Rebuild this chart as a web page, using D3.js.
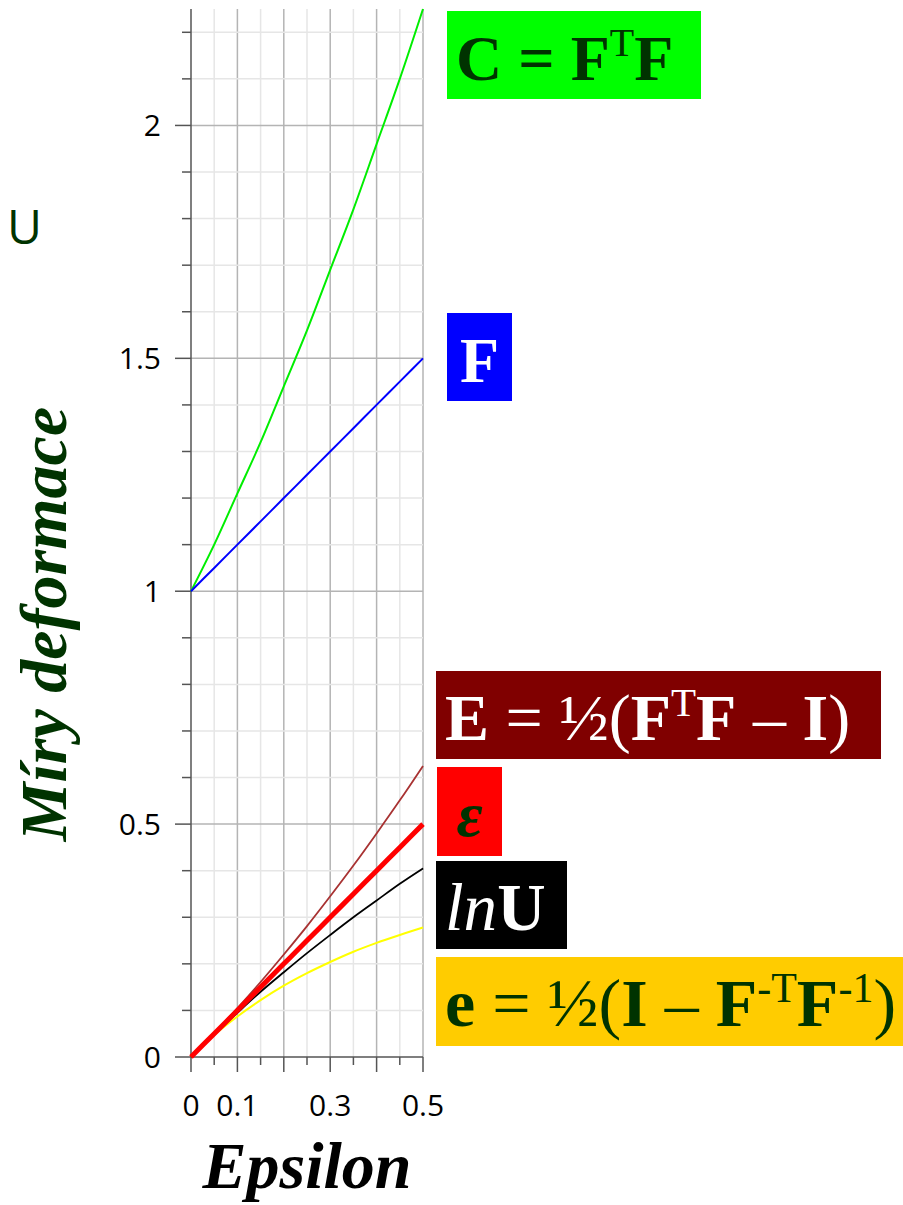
<!DOCTYPE html>
<html>
<head>
<meta charset="utf-8">
<script src="https://cdn.jsdelivr.net/npm/d3@7"></script>
<style>
  body { margin: 0; background: #fff; }
  svg { display: block; }
</style>
</head>
<body>
<script>
// values
var epsilon = [0, 0.05, 0.1, 0.15, 0.2, 0.25, 0.3, 0.35, 0.4, 0.45, 0.5];
var seriesC = [1, 1.10, 1.21, 1.32, 1.44, 1.56, 1.69, 1.82, 1.96, 2.10, 2.25];
var seriesF = [1, 1.05, 1.10, 1.15, 1.20, 1.25, 1.30, 1.35, 1.40, 1.45, 1.50];
var seriesE = [0, 0.051, 0.105, 0.161, 0.22, 0.281, 0.345, 0.411, 0.48, 0.551, 0.625];
var seriesEps = [0, 0.05, 0.1, 0.15, 0.2, 0.25, 0.3, 0.35, 0.4, 0.45, 0.5];
var seriesLnU = [0, 0.049, 0.095, 0.140, 0.182, 0.223, 0.262, 0.300, 0.336, 0.372, 0.405];
var seriesSmallE = [0, 0.047, 0.087, 0.122, 0.153, 0.18, 0.204, 0.226, 0.245, 0.262, 0.278];

var xTickLabels = [0, 0.1, 0.3, 0.5];
var yTickLabels = [0, 0.5, 1, 1.5, 2];

var width = 903, height = 1205;
var margin = {left: 191, right: 480, top: 9, bottom: 148};

var svg = d3.select('body').append('svg')
  .attr('width', width)
  .attr('height', height);

var x = d3.scaleLinear().domain([0, 0.5]).range([margin.left, width - margin.right]);
var y = d3.scaleLinear().domain([0, 2.25]).range([height - margin.bottom, margin.top]);

var x0 = x(0), x1 = x(0.5), y0 = y(0), y1 = y(2.25);

// grid
var xGrid = d3.range(0, 0.5001, 0.05);
var yGrid = d3.range(0, 2.2501, 0.1);

svg.append('g').selectAll('line').data(xGrid.slice(1)).enter().append('line')
  .attr('x1', function(d) { return x(d); }).attr('x2', function(d) { return x(d); })
  .attr('y1', y0).attr('y2', y1)
  .attr('stroke', function(d, i) { return i % 2 === 1 ? '#b4b4b4' : '#e6e6e6'; })
  .attr('stroke-width', 1.5);

svg.append('g').selectAll('line').data(yGrid.slice(1)).enter().append('line')
  .attr('x1', x0).attr('x2', x1)
  .attr('y1', function(d) { return y(d); }).attr('y2', function(d) { return y(d); })
  .attr('stroke', function(d, i) { return (i + 1) % 5 === 0 ? '#b4b4b4' : '#e6e6e6'; })
  .attr('stroke-width', 1.5);

// axes lines + ticks
var axisColor = '#555';
svg.append('line').attr('x1', x0).attr('x2', x0).attr('y1', y1).attr('y2', y0)
  .attr('stroke', axisColor).attr('stroke-width', 1.5);
svg.append('line').attr('x1', x0).attr('x2', x1).attr('y1', y0).attr('y2', y0)
  .attr('stroke', axisColor).attr('stroke-width', 1.5);

svg.append('g').selectAll('line').data(yGrid).enter().append('line')
  .attr('x1', function(d, i) { return i % 5 === 0 ? x0 - 16 : x0 - 9; }).attr('x2', x0)
  .attr('y1', function(d) { return y(d); }).attr('y2', function(d) { return y(d); })
  .attr('stroke', axisColor).attr('stroke-width', 1.5);

svg.append('g').selectAll('line').data(xGrid).enter().append('line')
  .attr('x1', function(d) { return x(d); }).attr('x2', function(d) { return x(d); })
  .attr('y1', y0).attr('y2', function(d, i) { return i % 2 === 0 ? y0 + 15 : y0 + 8; })
  .attr('stroke', axisColor).attr('stroke-width', 1.5);

// tick labels
svg.append('g').selectAll('text').data(yTickLabels).enter().append('text')
  .attr('x', x0 - 30).attr('y', function(d) { return y(d) + 11; })
  .attr('text-anchor', 'end')
  .style('font-family', '"Open Sans", sans-serif').style('font-size', '30px')
  .text(function(d) { return d; });

svg.append('g').selectAll('text').data(xTickLabels).enter().append('text')
  .attr('x', function(d) { return x(d); }).attr('y', y0 + 59)
  .attr('text-anchor', 'middle')
  .style('font-family', '"Open Sans", sans-serif').style('font-size', '30px')
  .text(function(d) { return d; });

// curves
var series = [
  {vals: seriesC, color: '#00ee00', w: 2},
  {vals: seriesF, color: '#0000ff', w: 2},
  {vals: seriesE, color: '#a83232', w: 1.8},
  {vals: seriesSmallE, color: '#ffff00', w: 2},
  {vals: seriesLnU, color: '#000000', w: 1.8},
  {vals: seriesEps, color: '#ff0000', w: 5}
];

var line = d3.line()
  .x(function(d) { return x(d[0]); })
  .y(function(d) { return y(d[1]); })
  .curve(d3.curveMonotoneX);

svg.append('g').selectAll('path').data(series).enter().append('path')
  .attr('d', function(s) { return line(epsilon.map(function(e, i) { return [e, s.vals[i]]; })); })
  .attr('fill', 'none')
  .attr('stroke', function(s) { return s.color; })
  .attr('stroke-width', function(s) { return s.w; });

// axis titles
var serif = '"Liberation Serif", "DejaVu Serif", serif';
svg.append('text')
  .attr('transform', 'translate(66,624) rotate(-90)')
  .attr('text-anchor', 'middle')
  .style('font-family', serif).style('font-size', '66px')
  .style('font-style', 'italic').style('font-weight', 'bold')
  .attr('fill', '#003300')
  .text('Míry deformace');

svg.append('text')
  .attr('x', 7).attr('y', 244)
  .style('font-family', '"Open Sans", sans-serif').style('font-size', '48px')
  .attr('fill', '#003300')
  .text('U');

svg.append('text')
  .attr('x', 307).attr('y', 1188)
  .attr('text-anchor', 'middle')
  .style('font-family', serif).style('font-size', '66px')
  .style('font-style', 'italic').style('font-weight', 'bold')
  .attr('fill', '#000')
  .text('Epsilon');

// labels at right
var labels = [
  {x: 447, y: 11, w: 254, h: 88, bg: '#00ff00', fg: '#003300', align: 'left', fs: 64,
    parts: [['C = F', 'b'], ['T', 'sup'], ['F', 'b']]},
  {x: 447, y: 313, w: 65, h: 88, bg: '#0000ff', fg: '#ffffff', align: 'middle', fs: 64,
    parts: [['F', 'b']]},
  {x: 436, y: 671, w: 445, h: 88, bg: '#800000', fg: '#ffffff', align: 'left', fs: 66,
    parts: [['E', 'b'], [' = ½(', 'r'], ['F', 'b'], ['T', 'sup'], ['F', 'b'], [' – ', 'r'], ['I', 'b'], [')', 'r']]},
  {x: 437, y: 767, w: 65, h: 89, bg: '#ff0000', fg: '#003300', align: 'middle', fs: 64,
    parts: [['ε', 'bi']]},
  {x: 436, y: 861, w: 131, h: 88, bg: '#000000', fg: '#ffffff', align: 'left', fs: 67,
    parts: [['ln', 'i'], ['U', 'b']]},
  {x: 436, y: 957, w: 467, h: 89, bg: '#ffcc00', fg: '#003300', align: 'left', fs: 68,
    parts: [['e', 'b'], [' = ½(', 'r'], ['I', 'b'], [' – ', 'r'], ['F', 'b'], ['-T', 'sup'], ['F', 'b'], ['-1', 'sup'], [')', 'r']]}
];

var lg = svg.append('g').selectAll('g').data(labels).enter().append('g');
lg.append('rect')
  .attr('x', function(d) { return d.x; }).attr('y', function(d) { return d.y; })
  .attr('width', function(d) { return d.w; }).attr('height', function(d) { return d.h; })
  .attr('fill', function(d) { return d.bg; });

lg.each(function(d) {
  var t = d3.select(this).append('text')
    .attr('x', d.align === 'left' ? d.x + 9 : d.x + d.w / 2)
    .attr('y', d.y + 69)
    .attr('text-anchor', d.align === 'left' ? 'start' : 'middle')
    .style('font-family', serif).style('font-size', d.fs + 'px')
    .attr('fill', d.fg);
  var lastSup = false;
  d.parts.forEach(function(p) {
    var sp = t.append('tspan').text(p[0]).style('white-space', 'pre');
    if (p[1].indexOf('b') >= 0) sp.style('font-weight', 'bold');
    if (p[1].indexOf('i') >= 0) sp.style('font-style', 'italic');
    if (p[1] === 'sup') sp.style('font-size', Math.round(d.fs * 0.62) + 'px').attr('dy', -24);
    else if (lastSup) sp.attr('dy', 24);
    lastSup = p[1] === 'sup';
  });
});
</script>
</body>
</html>
